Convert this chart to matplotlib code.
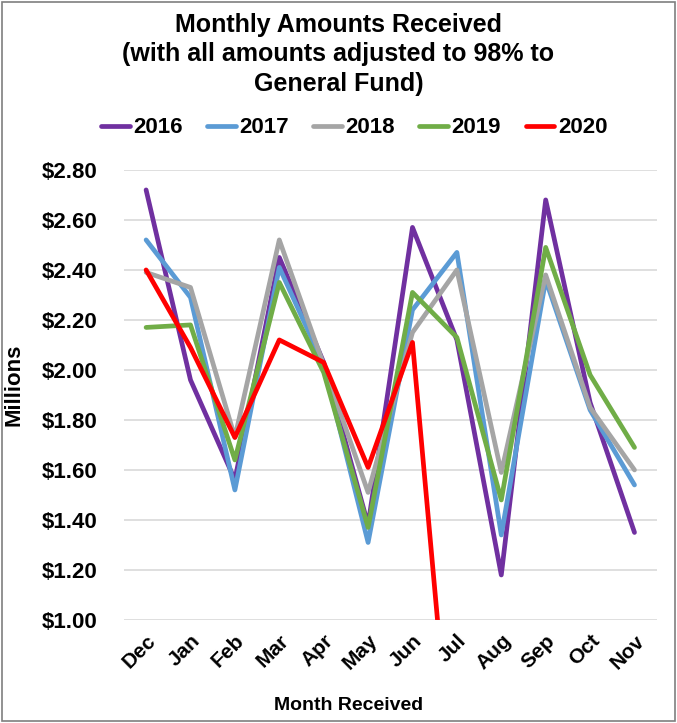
import matplotlib
matplotlib.use("Agg")
import matplotlib.pyplot as plt
from matplotlib.patches import Rectangle

plt.rcParams['font.family'] = ['Liberation Sans', 'DejaVu Sans']
plt.rcParams['font.weight'] = 'bold'

months = ['Dec', 'Jan', 'Feb', 'Mar', 'Apr', 'May', 'Jun', 'Jul', 'Aug', 'Sep', 'Oct', 'Nov']

y2016 = [2.72, 1.96, 1.56, 2.45, 2.03, 1.38, 2.57, 2.12, 1.18, 2.68, 1.87, 1.35]
y2017 = [2.52, 2.29, 1.52, 2.41, 2.02, 1.31, 2.24, 2.47, 1.34, 2.36, 1.84, 1.54]
y2018 = [2.39, 2.33, 1.73, 2.52, 2.02, 1.51, 2.15, 2.40, 1.59, 2.38, 1.85, 1.60]
y2019 = [2.17, 2.18, 1.64, 2.35, 1.99, 1.37, 2.31, 2.13, 1.48, 2.49, 1.98, 1.69]
y2020 = [2.40, 2.09, 1.73, 2.12, 2.03, 1.61, 2.11, 0.14]

series = [
    ('2016', y2016, '#7030A0'),
    ('2017', y2017, '#5B9BD5'),
    ('2018', y2018, '#A5A5A5'),
    ('2019', y2019, '#70AD47'),
    ('2020', y2020, '#FF0000'),
]

yticks = [1.0, 1.2, 1.4, 1.6, 1.8, 2.0, 2.2, 2.4, 2.6, 2.8]

fig = plt.figure(figsize=(6.77, 7.23), dpi=100)
ax = fig.add_axes([0.183, 0.1425, 0.787, 0.6225])

for name, vals, col in series:
    ax.plot(range(len(vals)), vals, color=col, linewidth=3.4, label=name,
            solid_capstyle='round', solid_joinstyle='round')

ax.set_xlim(-0.5, 11.5)
ax.set_ylim(1.0, 2.8)
ax.set_yticks(yticks)
ax.set_yticklabels(['${:.2f}'.format(v) for v in yticks], fontsize=16, fontweight='bold')
ax.set_xticks(range(len(months)))
ax.set_xticklabels(months, rotation=45, ha='right', rotation_mode='anchor',
                   fontsize=15, fontweight='bold')
ax.tick_params(axis='y', length=0, pad=19)
ax.tick_params(axis='x', length=0, pad=8)
ax.grid(axis='y', color='#D9D9D9', linewidth=1.2)
ax.set_axisbelow(True)
for s in ax.spines.values():
    s.set_visible(False)

ax.set_ylabel('Millions', fontsize=16, fontweight='bold')
ax.yaxis.set_label_coords(-0.186, 0.522)
ax.set_xlabel('Month Received', fontsize=14, fontweight='bold')
ax.xaxis.set_label_coords(0.422, -0.172)

fig.text(0.5, 0.982, 'Monthly Amounts Received\n(with all amounts adjusted to 98% to\nGeneral Fund)',
         ha='center', va='top', fontsize=18, fontweight='bold', linespacing=1.28)

fig.legend(loc='center', bbox_to_anchor=(0.523, 0.823), ncol=5, frameon=False,
           handlelength=1.3, handletextpad=0.15, columnspacing=1.1,
           prop={'weight': 'bold', 'size': 16})

fig.patches.append(Rectangle((0.003, 0.003), 0.994, 0.994, transform=fig.transFigure,
                             fill=False, edgecolor='#7F7F7F', linewidth=1.2))

fig.savefig('out.png', dpi=100)
